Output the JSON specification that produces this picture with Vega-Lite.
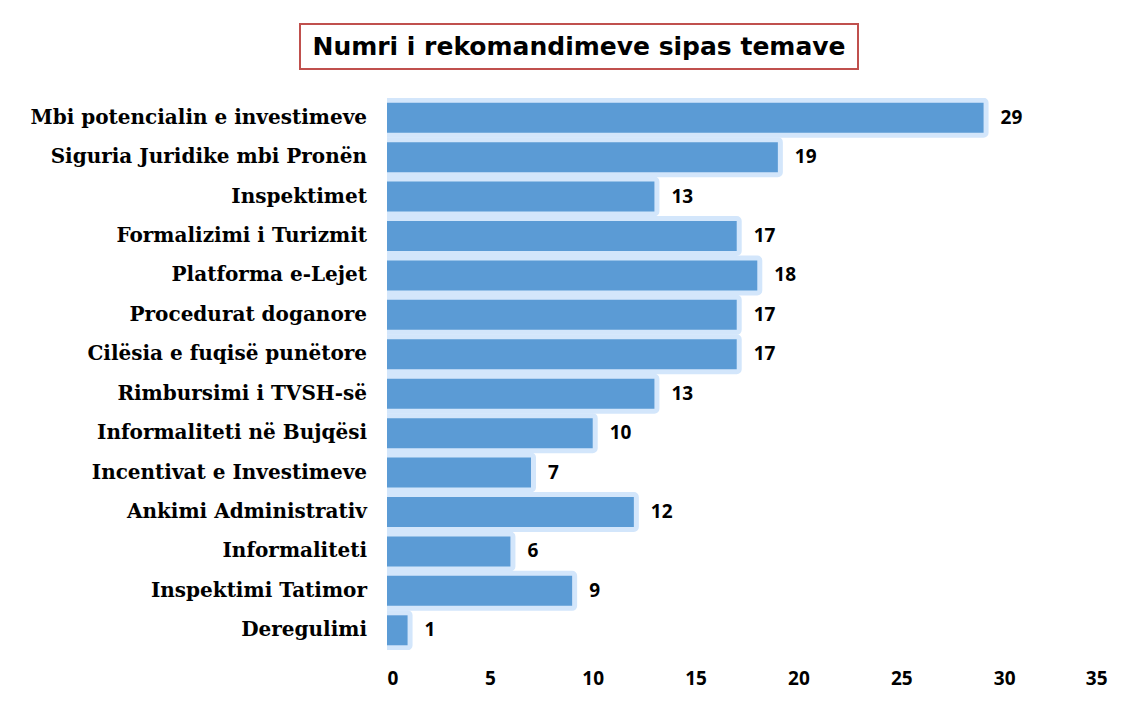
{
  "$schema": "https://vega.github.io/schema/vega-lite/v6.json",
  "background": "white",
  "padding": {"left": 30, "top": 23, "right": 5, "bottom": 5},
  "spacing": 28,
  "center": true,
  "datasets": {
    "rows": [
      {"topic": "Mbi potencialin e investimeve ", "value": 29},
      {"topic": "Siguria Juridike mbi Pronën", "value": 19},
      {"topic": "Inspektimet", "value": 13},
      {"topic": "Formalizimi i Turizmit", "value": 17},
      {"topic": "Platforma e-Lejet", "value": 18},
      {"topic": "Procedurat doganore", "value": 17},
      {"topic": "Cilësia e fuqisë punëtore", "value": 17},
      {"topic": "Rimbursimi i TVSH-së", "value": 13},
      {"topic": "Informaliteti në Bujqësi", "value": 10},
      {"topic": "Incentivat e Investimeve", "value": 7},
      {"topic": "Ankimi Administrativ", "value": 12},
      {"topic": "Informaliteti", "value": 6},
      {"topic": "Inspektimi Tatimor", "value": 9},
      {"topic": "Deregulimi", "value": 1}
    ]
  },
  "vconcat": [
    {
      "width": 558,
      "height": 45,
      "view": {"stroke": "#c0504d", "strokeWidth": 2, "fill": "white"},
      "data": {"values": [{"t": "Numri i rekomandimeve sipas temave"}]},
      "mark": {"type": "text", "font": "DejaVu Sans", "fontWeight": "bold", "fontSize": 25, "color": "black", "baseline": "middle", "align": "center"},
      "encoding": {"text": {"field": "t"}}
    },
    {
      "spacing": 20,
      "hconcat": [
        {
          "width": 315,
          "height": 552,
          "view": {"stroke": null},
          "data": {"name": "rows"},
          "mark": {"type": "text", "align": "right", "baseline": "middle", "font": "DejaVu Serif", "fontWeight": "bold", "fontSize": 20, "color": "black"},
          "encoding": {
            "x": {"value": "width"},
            "y": {"field": "topic", "type": "nominal", "sort": null, "scale": {"paddingInner": 0.24, "paddingOuter": 0.12}, "axis": null},
            "text": {"field": "topic"}
          }
        },
        {
          "width": 720,
          "height": 552,
          "view": {"stroke": null},
          "data": {"name": "rows"},
          "encoding": {
            "y": {
              "field": "topic", "type": "nominal", "sort": null,
              "scale": {"paddingInner": 0.24, "paddingOuter": 0.12},
              "axis": null
            },
            "x": {
              "field": "value", "type": "quantitative",
              "scale": {"domain": [0, 35], "nice": false},
              "axis": {"title": null, "domain": false, "ticks": false, "grid": false, "values": [0, 5, 10, 15, 20, 25, 30, 35], "labelFont": "Open Sans", "labelFontWeight": "bold", "labelFontSize": 19, "labelPadding": 19, "labelColor": "black"}
            }
          },
          "layer": [
            {"mark": {"type": "bar", "fill": "#d3e6fb", "stroke": "#d3e6fb", "strokeWidth": 10, "strokeJoin": "round", "clip": true}},
            {"mark": {"type": "bar", "fill": "#5b9bd5"}},
            {"mark": {"type": "text", "align": "left", "baseline": "middle", "dx": 17, "font": "Open Sans", "fontWeight": "bold", "fontSize": 19, "color": "black"},
             "encoding": {"text": {"field": "value", "type": "quantitative"}}}
          ]
        }
      ]
    }
  ]
}
